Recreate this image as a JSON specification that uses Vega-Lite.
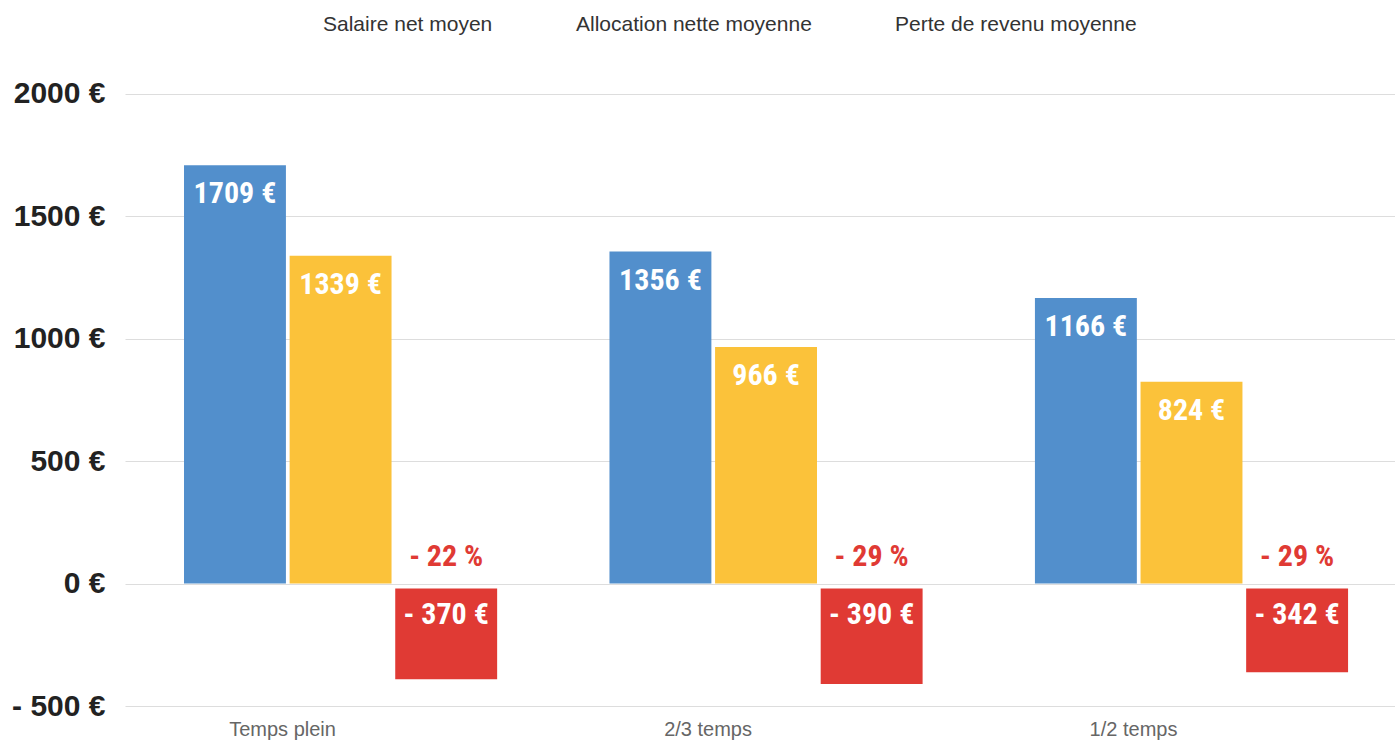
{
  "$schema": "https://vega.github.io/schema/vega-lite/v6.json",
  "autosize": {"type": "none"},
  "padding": {"left": 125, "top": 78, "right": 0, "bottom": 35},
  "width": 1270,
  "height": 628,
  "background": "white",
  "config": {"view": {"stroke": null}},
  "data": {
    "values": [
      {"temps": "Temps plein", "serie": "Salaire net moyen", "value": 1709, "label": "1709 €", "pct": ""},
      {"temps": "Temps plein", "serie": "Allocation nette moyenne", "value": 1339, "label": "1339 €", "pct": ""},
      {"temps": "Temps plein", "serie": "Perte de revenu moyenne", "value": -370, "label": "- 370 €", "pct": "- 22 %"},
      {"temps": "2/3 temps", "serie": "Salaire net moyen", "value": 1356, "label": "1356 €", "pct": ""},
      {"temps": "2/3 temps", "serie": "Allocation nette moyenne", "value": 966, "label": "966 €", "pct": ""},
      {"temps": "2/3 temps", "serie": "Perte de revenu moyenne", "value": -390, "label": "- 390 €", "pct": "- 29 %"},
      {"temps": "1/2 temps", "serie": "Salaire net moyen", "value": 1166, "label": "1166 €", "pct": ""},
      {"temps": "1/2 temps", "serie": "Allocation nette moyenne", "value": 824, "label": "824 €", "pct": ""},
      {"temps": "1/2 temps", "serie": "Perte de revenu moyenne", "value": -342, "label": "- 342 €", "pct": "- 29 %"}
    ]
  },
  "encoding": {
    "x": {
      "field": "temps", "type": "nominal",
      "sort": ["Temps plein", "2/3 temps", "1/2 temps"],
      "scale": {"paddingInner": 0.264, "paddingOuter": 0.1245, "align": 0.557},
      "axis": {
        "title": null, "domain": false, "ticks": false, "labelAngle": 0,
        "labelFont": "Liberation Sans", "labelFontSize": 20, "labelColor": "#666666",
        "labelPadding": 13, "labelOffset": -58
      }
    },
    "xOffset": {
      "field": "serie", "type": "nominal",
      "sort": ["Salaire net moyen", "Allocation nette moyenne", "Perte de revenu moyenne"],
      "scale": {"paddingInner": 0.035, "paddingOuter": 0}
    }
  },
  "layer": [
    {
      "mark": {"type": "bar", "yOffset": {"expr": "datum.value < 0 ? 5 : 0"}},
      "encoding": {
        "y": {
          "field": "value", "type": "quantitative",
          "scale": {"domain": [-500, 2065], "nice": false, "zero": false},
          "axis": {
            "title": null, "domain": false, "ticks": false,
            "values": [-500, 0, 500, 1000, 1500, 2000],
            "labelExpr": "datum.value < 0 ? '- ' + abs(datum.value) + ' €' : datum.value + ' €'",
            "labelFont": "Liberation Sans", "labelFontWeight": "bold", "labelFontSize": 30,
            "labelColor": "#222222", "labelPadding": 20,
            "grid": true, "gridColor": "#dddddd", "gridWidth": 1
          }
        },
        "color": {
          "field": "serie", "type": "nominal",
          "scale": {
            "domain": ["Salaire net moyen", "Allocation nette moyenne", "Perte de revenu moyenne"],
            "range": ["#528fcc", "#fbc23a", "#e03a34"]
          },
          "legend": {
            "title": null, "orient": "none", "direction": "horizontal",
            "legendX": 177, "legendY": -64,
            "symbolSize": 0, "symbolOpacity": 0, "symbolStrokeWidth": 0, "labelOffset": 0,
            "columnPadding": 62, "labelLimit": 500,
            "labelFont": "Liberation Sans", "labelFontSize": 21, "labelColor": "#333333"
          }
        }
      }
    },
    {
      "transform": [{"filter": "datum.value > 0"}],
      "mark": {"type": "text", "baseline": "middle", "align": "center", "dy": 29,
               "font": "Roboto Condensed, DejaVu Sans Condensed, Liberation Sans Narrow, sans-serif", "fontWeight": "bold", "fontSize": 30, "color": "white"},
      "encoding": {
        "y": {"field": "value", "type": "quantitative"},
        "text": {"field": "label"}
      }
    },
    {
      "transform": [{"filter": "datum.value < 0"}],
      "mark": {"type": "text", "baseline": "middle", "align": "center", "dy": 31,
               "font": "Roboto Condensed, DejaVu Sans Condensed, Liberation Sans Narrow, sans-serif", "fontWeight": "bold", "fontSize": 30, "color": "white"},
      "encoding": {
        "y": {"datum": 0, "type": "quantitative"},
        "text": {"field": "label"}
      }
    },
    {
      "transform": [{"filter": "datum.value < 0"}],
      "mark": {"type": "text", "baseline": "middle", "align": "center", "dy": -27,
               "font": "Roboto Condensed, DejaVu Sans Condensed, Liberation Sans Narrow, sans-serif", "fontWeight": "bold", "fontSize": 30, "color": "#e03a34"},
      "encoding": {
        "y": {"datum": 0, "type": "quantitative"},
        "text": {"field": "pct"}
      }
    }
  ]
}
